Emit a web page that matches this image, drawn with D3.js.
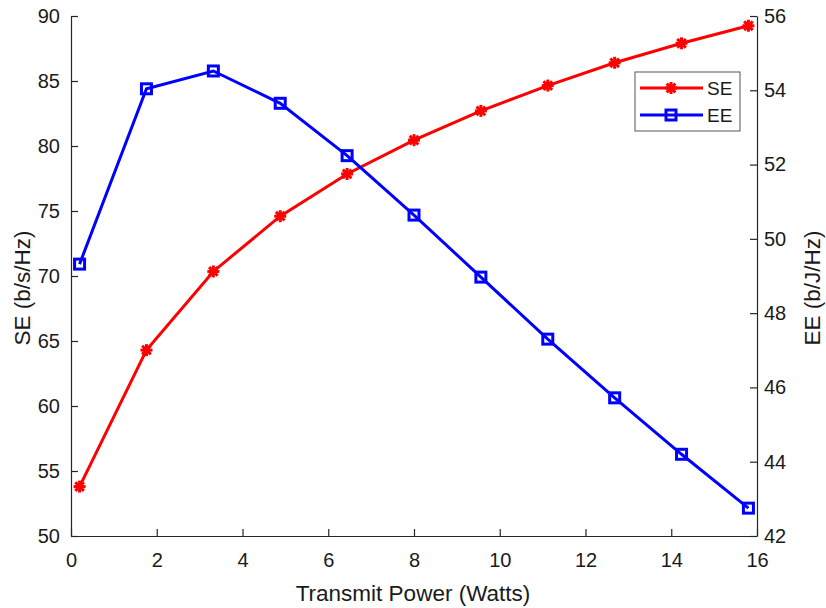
<!DOCTYPE html>
<html><head><meta charset="utf-8">
<script src="https://cdn.jsdelivr.net/npm/d3@7"></script>
<style>body{margin:0;background:#fff}svg{display:block}text{font-family:"Liberation Sans",Arial,sans-serif}</style>
</head><body><svg id="c" width="826" height="608"></svg>
<script>
const power = [0.2, 1.76, 3.32, 4.88, 6.44, 8.0, 9.56, 11.12, 12.68, 14.24, 15.8];
const seValues = [53.8, 64.3, 70.35, 74.6, 77.85, 80.45, 82.7, 84.65, 86.4, 87.9, 89.25];
const eeValues = [49.32, 54.04, 54.52, 53.65, 52.24, 50.64, 48.97, 47.3, 45.72, 44.2, 42.75];
const xTicks = [0, 2, 4, 6, 8, 10, 12, 14, 16];
const seTicks = [50, 55, 60, 65, 70, 75, 80, 85, 90];
const eeTicks = [42, 44, 46, 48, 50, 52, 54, 56];
const seriesNames = ["SE", "EE"];

const svg = d3.select("#c");
const L = 71, R = 757, T = 16, B = 536;
const axisCol = "#262626";
const txtCol = "#1a1a1a";
const x = d3.scaleLinear().domain([0, 16]).range([L, R]);
const yL = d3.scaleLinear().domain([50, 90]).range([B, T]);
const yR = d3.scaleLinear().domain([42, 56]).range([B, T]);

// axes
const gx = svg.append("g").attr("transform", `translate(0,${B})`)
  .call(d3.axisBottom(x).tickValues(xTicks).tickSizeInner(-7).tickSizeOuter(0).tickPadding(17));
const gl = svg.append("g").attr("transform", `translate(${L},0)`)
  .call(d3.axisLeft(yL).tickValues(seTicks).tickSizeInner(-7).tickSizeOuter(0).tickPadding(11));
const gr = svg.append("g").attr("transform", `translate(${R},0)`)
  .call(d3.axisRight(yR).tickValues(eeTicks).tickSizeInner(-7).tickSizeOuter(0).tickPadding(7));
[gx, gl, gr].forEach(g => {
  g.select(".domain").attr("stroke", axisCol).attr("stroke-width", 1.2);
  g.selectAll(".tick line").attr("stroke", axisCol).attr("stroke-width", 1.2);
  g.selectAll(".tick text").attr("fill", txtCol).style("font-size", "20px").style("font-family", "'Liberation Sans',Arial,sans-serif");
});

// axis labels
svg.append("text").attr("x", 413).attr("y", 601).attr("text-anchor", "middle")
  .style("font-size", "22.5px").attr("fill", txtCol).text("Transmit Power (Watts)");
svg.append("text").attr("transform", `translate(30,${(T + B) / 2 + 12}) rotate(-90)`).attr("text-anchor", "middle")
  .style("font-size", "22.5px").attr("fill", txtCol).text("SE (b/s/Hz)");
svg.append("text").attr("transform", `translate(820,${(T + B) / 2 + 12}) rotate(-90)`).attr("text-anchor", "middle")
  .style("font-size", "22.5px").attr("fill", txtCol).text("EE (b/J/Hz)");

// series
const seData = power.map((p, i) => [p, seValues[i]]);
const eeData = power.map((p, i) => [p, eeValues[i]]);
const lineSE = d3.line().x(d => x(d[0])).y(d => yL(d[1]));
const lineEE = d3.line().x(d => x(d[0])).y(d => yR(d[1]));

function star(g, cx, cy, r, col) {
  const s = g.append("g").attr("transform", `translate(${cx},${cy})`);
  const a = r * 0.72;
  [[-r, 0, r, 0], [0, -r, 0, r], [-a, -a, a, a], [-a, a, a, -a]].forEach(l =>
    s.append("line").attr("x1", l[0]).attr("y1", l[1]).attr("x2", l[2]).attr("y2", l[3])
      .attr("stroke", col).attr("stroke-width", 3));
  s.append("circle").attr("r", r * 0.55).attr("fill", col);
}
function square(g, cx, cy, h, col) {
  g.append("rect").attr("x", cx - h).attr("y", cy - h).attr("width", 2 * h).attr("height", 2 * h)
    .attr("fill", "none").attr("stroke", col).attr("stroke-width", 3);
}

svg.append("path").datum(seData).attr("d", lineSE).attr("fill", "none").attr("stroke", "#ff0000").attr("stroke-width", 3);
svg.append("path").datum(eeData).attr("d", lineEE).attr("fill", "none").attr("stroke", "#0000ff").attr("stroke-width", 3);
const gm = svg.append("g");
seData.forEach(d => star(gm, x(d[0]), yL(d[1]), 6, "#ff0000"));
eeData.forEach(d => square(gm, x(d[0]), yR(d[1]), 5, "#0000ff"));

// legend
const lg = svg.append("g");
lg.append("rect").attr("x", 635).attr("y", 72).attr("width", 105).attr("height", 59)
  .attr("fill", "#fff").attr("stroke", "#555").attr("stroke-width", 1);
[["#ff0000", 88, "star"], ["#0000ff", 115, "square"]].forEach((s, i) => {
  lg.append("line").attr("x1", 640).attr("x2", 703).attr("y1", s[1]).attr("y2", s[1]).attr("stroke", s[0]).attr("stroke-width", 3);
  if (s[2] === "star") star(lg, 671, s[1], 6, s[0]); else square(lg, 671, s[1], 5, s[0]);
  lg.append("text").attr("x", 707).attr("y", s[1]).attr("dy", "0.36em").style("font-size", "19px").attr("fill", txtCol).text(seriesNames[i]);
});
</script></body></html>
